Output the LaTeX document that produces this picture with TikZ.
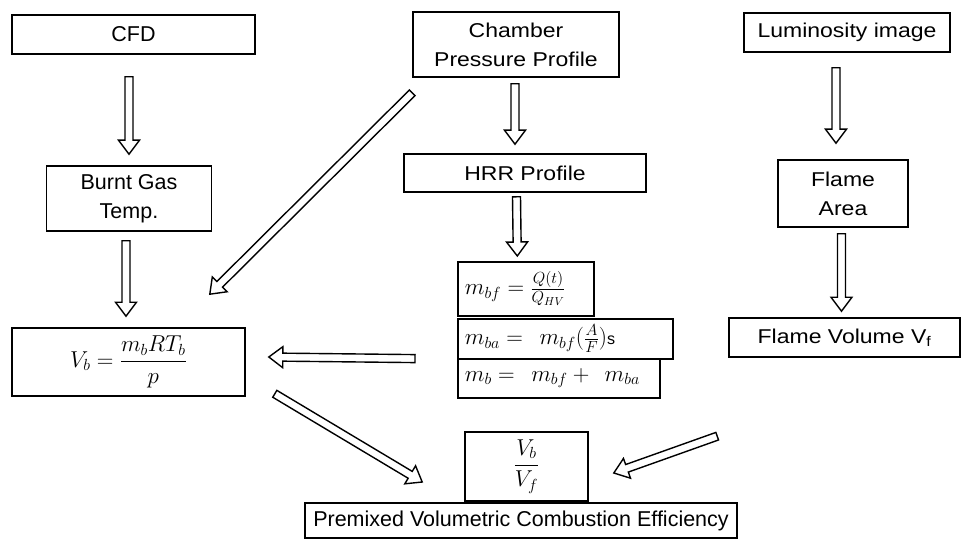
\documentclass[tikz,border=0pt]{standalone}
\usepackage{fix-cm}
\usepackage{amsmath}
\usepackage{fontspec}
\setmainfont{Liberation Sans}
\newfontfamily\widesf{Liberation Sans}[FakeStretch=1.15]
\usetikzlibrary{calc}

\tikzstyle{box}=[draw, line width=1.6pt, align=center, inner sep=0pt]
\tikzstyle{wide}=[font=\widesf\fontsize{20}{29}\selectfont]
\tikzstyle{plain}=[font=\fontsize{21.5}{29}\selectfont]
\tikzstyle{eqn}=[font=\fontsize{23}{26}\selectfont, align=left, inner xsep=7pt]
% hollow block arrow, drawn as one outline from start to target
\tikzstyle{fat}=[draw, fill=white, line width=1.4pt, line join=miter,
  to path={
    ($(\tikztotarget)!14pt!(\tikztostart)$) coordinate (fat-head)
    ($(\tikztostart)!4pt!90:(\tikztotarget)$)
      -- ($(fat-head)!4pt!90:(\tikztotarget)$)
      -- ($(fat-head)!10.5pt!90:(\tikztotarget)$)
      -- (\tikztotarget)
      -- ($(fat-head)!10.5pt!-90:(\tikztotarget)$)
      -- ($(fat-head)!4pt!-90:(\tikztotarget)$)
      -- ($(\tikztostart)!4pt!-90:(\tikztotarget)$)
      -- cycle}]

\begin{document}
\begin{tikzpicture}[x=1pt, y=-1pt]
      \useasboundingbox (0,0) rectangle (964,540);

      % sources
      \node[box, plain, minimum width=243pt, minimum height=39pt] (cfd)     at (133.5, 34.5) {CFD};
      \node[box, wide,  minimum width=206pt, minimum height=65pt] (chamber) at (516, 44.5)   {Chamber\\Pressure Profile};
      \node[box, wide,  minimum width=206pt, minimum height=39pt] (lum)     at (847, 32.5)   {Luminosity image};

      % second row
      \node[box, plain, minimum width=165pt, minimum height=65pt] (burnt)  at (129, 198.5) {Burnt Gas\\Temp.};
      \node[box, wide,  minimum width=242pt, minimum height=38pt] (hrr)    at (525, 173)   {HRR Profile};
      \node[box, wide,  minimum width=130pt, minimum height=67pt] (flarea) at (843, 193.5) {Flame\\Area};

      % burnt mass
      \node[box, eqn, anchor=north west, minimum width=136pt, minimum height=54pt, text width=122pt] (mbf) at (457, 261)
        {$m_{bf} = \frac{Q(t)}{Q_{HV}}$};
      \node[box, eqn, anchor=north west, minimum width=215pt, minimum height=40pt, text width=201pt] (mba) at (457, 318)
        {$m_{ba} = \;\, m_{bf}(\frac{A}{F}){\scriptstyle\text{s}}$};
      \node[box, eqn, anchor=north west, minimum width=202pt, minimum height=39pt, text width=188pt] (mb)  at (457, 358)
        {$m_b = \;\, m_{bf} + \;\, m_{ba}$};

      % volumes
      \node[box, font=\fontsize{23}{26}\selectfont, minimum width=233pt, minimum height=68pt] (vb) at (128.5, 362)
        {$V_b = \dfrac{m_b R T_b}{p}$};
      \node[box, wide, minimum width=231pt, minimum height=39pt] (flvol) at (844.5, 337.5)
        {Flame Volume V\textsubscript{f}};
      \node[box, font=\fontsize{23}{26}\selectfont, minimum width=123pt, minimum height=69pt] (ratio) at (526.5, 466.5)
        {$\dfrac{V_b}{V_f}$};
      \node[box, plain, minimum width=432pt, minimum height=35pt] (eff) at (521, 520.5)
        {Premixed Volumetric Combustion Efficiency};

      \draw[fat] ([xshift=-4.5pt, yshift=-22pt]cfd.south)    to ([yshift=11pt]burnt.north);
      \draw[fat] ([xshift=-1pt, yshift=-6pt]chamber.south)   to ([xshift=-10pt, yshift=9pt]hrr.north);
      \draw[fat] ([xshift=-11pt, yshift=-15pt]lum.south)     to ([xshift=-7pt, yshift=16pt]flarea.north);
      \draw[fat] ([xshift=-3pt, yshift=-9pt]burnt.south)     to ([xshift=-2.5pt, yshift=11pt]vb.north);
      \draw[fat] ([xshift=-8.5pt, yshift=-4pt]hrr.south)     to ([xshift=-8.5pt, yshift=5pt]mbf.north);
      \draw[fat] ([xshift=-1.5pt, yshift=-6pt]flarea.south)  to ([xshift=-3pt, yshift=6pt]flvol.north);
      \draw[fat] ([yshift=-15pt]chamber.south west)          to ([xshift=-36pt, yshift=33pt]vb.north east);
      \draw[fat] ([xshift=-42pt, yshift=1pt]mba.south west)  to ([xshift=23pt, yshift=5pt]vb.east);
      \draw[fat] ([xshift=29pt, yshift=3pt]vb.south east)    to ([xshift=-42pt, yshift=-15.5pt]ratio.west);
      \draw[fat] ([xshift=-11pt, yshift=-119pt]flvol.north west) to ([xshift=25pt, yshift=-6.5pt]ratio.east);
    \end{tikzpicture}
\end{document}
